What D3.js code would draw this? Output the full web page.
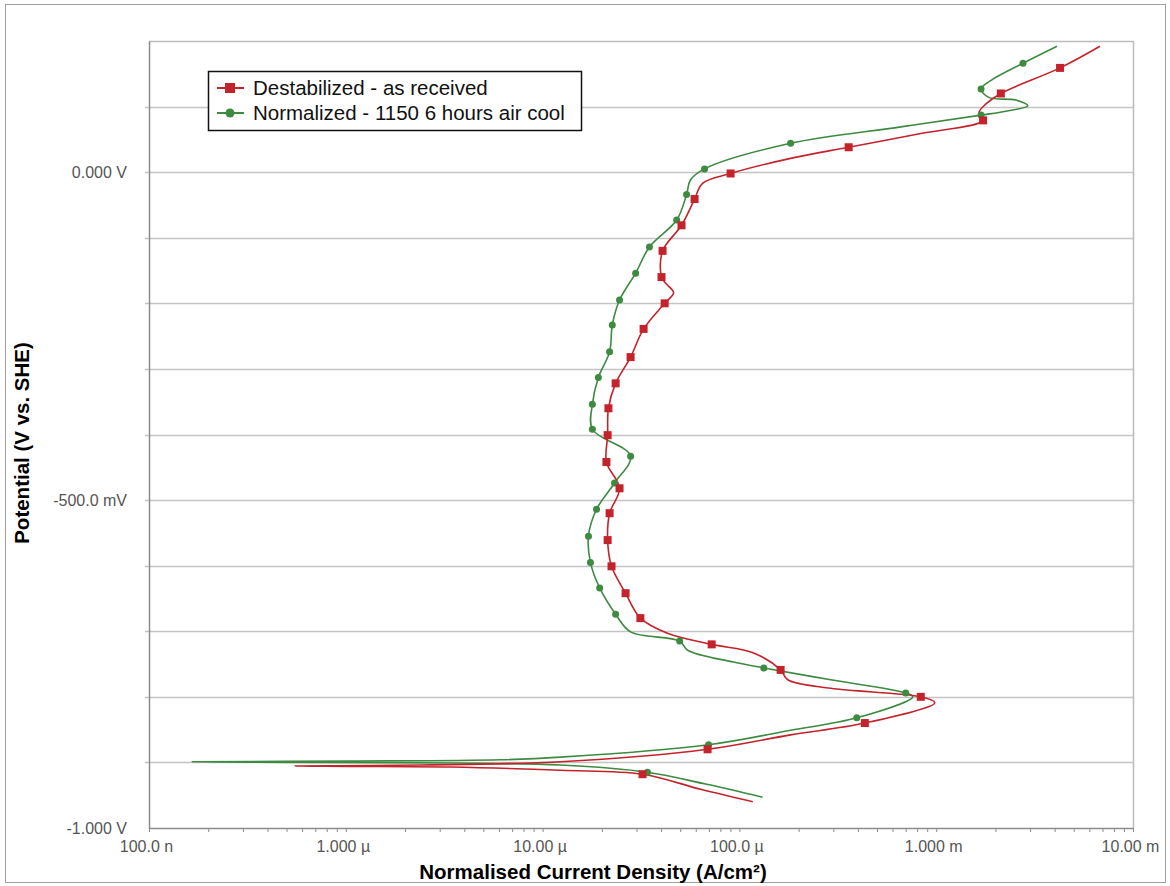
<!DOCTYPE html>
<html>
<head>
<meta charset="utf-8">
<script src="https://cdn.jsdelivr.net/npm/d3@7"></script>
<style>
  html, body { margin: 0; padding: 0; background: #fff; }
  svg { display: block; font-family: "Liberation Sans", Arial, sans-serif; }
</style>
</head>
<body>
<div id="chart"></div>
<script>
// series: [current density (A/cm2), potential (V vs SHE)] in scan order
const destabilized = [
  [1.17e-4, -0.960], [6.35e-5, -0.941], [3.22e-5, -0.918], [1.23e-5, -0.912],
  [3.40e-6, -0.907], [1.05e-6, -0.906], [5.53e-7, -0.9055], [2.39e-6, -0.904],
  [1.23e-5, -0.899], [6.89e-5, -0.880], [1.82e-4, -0.858], [4.34e-4, -0.840],
  [9.84e-4, -0.809], [8.35e-4, -0.800], [2.91e-4, -0.787], [1.76e-4, -0.774],
  [1.62e-4, -0.759], [1.18e-4, -0.733], [7.23e-5, -0.720], [4.31e-5, -0.703],
  [3.14e-5, -0.680], [2.64e-5, -0.642], [2.24e-5, -0.601], [2.14e-5, -0.561],
  [2.19e-5, -0.520], [2.46e-5, -0.482], [2.11e-5, -0.442], [2.14e-5, -0.401],
  [2.16e-5, -0.360], [2.35e-5, -0.322], [2.80e-5, -0.282], [3.26e-5, -0.239],
  [4.17e-5, -0.200], [4.63e-5, -0.184], [4.27e-5, -0.171], [4.02e-5, -0.160],
  [4.07e-5, -0.120], [5.08e-5, -0.081], [5.92e-5, -0.041], [6.50e-5, -0.017],
  [9.02e-5, -0.002], [1.82e-4, 0.021], [3.59e-4, 0.038], [8.35e-4, 0.059],
  [1.73e-3, 0.079], [1.65e-3, 0.091], [1.79e-3, 0.104], [2.13e-3, 0.120],
  [4.26e-3, 0.159], [6.79e-3, 0.192]
];
const destabMarks = [2, 9, 11, 13, 16, 18, 20, 21, 22, 23, 24, 25, 26, 27, 28, 29,
  30, 31, 32, 35, 36, 37, 38, 40, 42, 44, 47, 48];

const normalized = [
  [1.31e-4, -0.953], [6.73e-5, -0.933], [3.41e-5, -0.915], [1.23e-5, -0.904],
  [3.40e-6, -0.901], [5.86e-7, -0.8999], [1.66e-7, -0.899], [1.05e-6, -0.898],
  [6.10e-6, -0.896], [1.23e-5, -0.892], [6.97e-5, -0.873], [1.82e-4, -0.851],
  [3.95e-4, -0.832], [7.60e-4, -0.800], [7.00e-4, -0.794], [2.91e-4, -0.774],
  [1.33e-4, -0.756], [9.33e-5, -0.747], [5.46e-5, -0.729], [4.97e-5, -0.715],
  [2.80e-5, -0.701], [2.35e-5, -0.674], [1.95e-5, -0.634], [1.75e-5, -0.595],
  [1.71e-5, -0.555], [1.88e-5, -0.514], [2.32e-5, -0.474], [2.80e-5, -0.433],
  [1.79e-5, -0.392], [1.79e-5, -0.354], [1.92e-5, -0.313], [2.19e-5, -0.274],
  [2.26e-5, -0.233], [2.46e-5, -0.195], [2.97e-5, -0.154], [3.49e-5, -0.114],
  [4.80e-5, -0.073], [5.39e-5, -0.034], [5.64e-5, -0.012], [6.65e-5, 0.005],
  [1.82e-4, 0.044], [6.61e-4, 0.069], [1.69e-3, 0.087], [2.26e-3, 0.093],
  [2.92e-3, 0.101], [2.54e-3, 0.110], [1.85e-3, 0.114], [1.69e-3, 0.127],
  [1.90e-3, 0.140], [2.76e-3, 0.166], [4.11e-3, 0.192]
];
const normalMarks = [2, 10, 12, 14, 16, 19, 21, 22, 23, 24, 25, 26, 27, 28, 29, 30,
  31, 32, 33, 34, 35, 36, 37, 39, 40, 42, 47, 49];

const seriesNames = ['Destabilized - as received', 'Normalized - 1150 6 hours air cool'];
const xTickValues = [1e-7, 1e-6, 1e-5, 1e-4, 1e-3, 1e-2];
const xTickLabels = ['100.0 n', '1.000 \u00b5', '10.00 \u00b5', '100.0 \u00b5', '1.000 m', '10.00 m'];
const yTickValues = [0, -0.5, -1.0];
const yTickLabels = ['0.000 V', '-500.0 mV', '-1.000 V'];

const width = 1170, height = 886;
const margin = { top: 41, right: 37, bottom: 58, left: 149 };
const red = '#c4232b', green = '#3d8a41';

const svg = d3.select('#chart').append('svg')
  .attr('width', width)
  .attr('height', height);

// outer frame
svg.append('rect')
  .attr('x', 5.5).attr('y', 4.5)
  .attr('width', 1160).attr('height', 878)
  .attr('fill', 'none').attr('stroke', '#a0a0a0');

const x = d3.scaleLog()
  .domain([1e-7, 1e-2])
  .range([margin.left, width - margin.right]);

const y = d3.scaleLinear()
  .domain([-1.0, 0.2])
  .range([height - margin.bottom, margin.top]);

// horizontal grid every 100 mV
const gridVals = d3.range(-9, 2).map(d => d / 10);
svg.append('g')
  .selectAll('line')
  .data(gridVals)
  .enter()
  .append('line')
  .attr('x1', margin.left - 4)
  .attr('x2', width - margin.right)
  .attr('y1', d => Math.round(y(d)) + 0.5)
  .attr('y2', d => Math.round(y(d)) + 0.5)
  .attr('stroke', '#c4c4c4')
  .attr('stroke-width', 1.5);

// plot border (top / right)
svg.append('path')
  .attr('d', `M${margin.left},${margin.top + 0.5}H${width - margin.right + 0.5}V${height - margin.bottom}`)
  .attr('fill', 'none')
  .attr('stroke', '#bdbdbd')
  .attr('stroke-width', 1.5);

// x axis with minor ticks
const minor = [];
for (let e = -7; e < -2; e++) {
  for (let k = 2; k <= 9; k++) minor.push(k * Math.pow(10, e));
}
const xAxis = svg.append('g')
  .attr('transform', `translate(0,${height - margin.bottom})`)
  .call(d3.axisBottom(x)
    .tickValues(xTickValues.concat(minor))
    .tickSize(4)
    .tickSizeOuter(0)
    .tickFormat(d => {
      const i = xTickValues.findIndex(v => Math.abs(v - d) / v < 1e-6);
      return i >= 0 ? xTickLabels[i] : '';
    }));
xAxis.select('.domain').attr('stroke', '#8c8c8c').attr('stroke-width', 1.5);
xAxis.selectAll('.tick line').attr('stroke', '#8c8c8c');
xAxis.selectAll('.tick text')
  .attr('y', 13)
  .attr('dy', '0.71em')
  .attr('dx', -3)
  .style('font-size', '16px')
  .style('fill', '#555');

// y axis
const yAxis = svg.append('g')
  .attr('transform', `translate(${margin.left},0)`)
  .call(d3.axisLeft(y)
    .tickValues(yTickValues)
    .tickSize(0)
    .tickFormat((d, i) => yTickLabels[i]));
yAxis.select('.domain').attr('stroke', '#8c8c8c').attr('stroke-width', 1.5);
yAxis.selectAll('.tick text')
  .attr('x', -22)
  .style('font-size', '16px')
  .style('fill', '#555');

// axis titles
svg.append('text')
  .attr('x', 593)
  .attr('y', 879)
  .attr('text-anchor', 'middle')
  .style('font-size', '20.5px')
  .style('font-weight', 'bold')
  .text('Normalised Current Density (A/cm\u00b2)');

svg.append('text')
  .attr('transform', 'translate(29,443) rotate(-90)')
  .attr('text-anchor', 'middle')
  .style('font-size', '20.5px')
  .style('font-weight', 'bold')
  .text('Potential (V vs. SHE)');

// curves
const line = d3.line()
  .x(d => x(d[0]))
  .y(d => y(d[1]))
  .curve(d3.curveCatmullRom.alpha(0.5));

const plot = svg.append('g');

plot.append('path')
  .datum(normalized)
  .attr('d', line)
  .attr('fill', 'none')
  .attr('stroke', green)
  .attr('stroke-width', 1.6);

plot.append('path')
  .datum(destabilized)
  .attr('d', line)
  .attr('fill', 'none')
  .attr('stroke', red)
  .attr('stroke-width', 1.6);

plot.selectAll('circle.nm')
  .data(normalMarks.map(i => normalized[i]))
  .enter()
  .append('circle')
  .attr('class', 'nm')
  .attr('cx', d => x(d[0]))
  .attr('cy', d => y(d[1]))
  .attr('r', 3.5)
  .attr('fill', green);

plot.selectAll('rect.dm')
  .data(destabMarks.map(i => destabilized[i]))
  .enter()
  .append('rect')
  .attr('class', 'dm')
  .attr('x', d => x(d[0]) - 4)
  .attr('y', d => y(d[1]) - 4)
  .attr('width', 8)
  .attr('height', 8)
  .attr('fill', red);

// legend
const legend = svg.append('g').attr('transform', 'translate(208,71)');
legend.append('rect')
  .attr('x', 0.5).attr('y', 0.5)
  .attr('width', 373).attr('height', 59)
  .attr('fill', '#fff')
  .attr('stroke', '#111')
  .attr('stroke-width', 1.5);

const items = legend.selectAll('g.item')
  .data(seriesNames)
  .enter()
  .append('g')
  .attr('class', 'item')
  .attr('transform', (d, i) => `translate(0,${17 + i * 25})`);

items.append('line')
  .attr('x1', 9).attr('x2', 36)
  .attr('stroke', (d, i) => i === 0 ? red : green)
  .attr('stroke-width', 2);

items.each(function (d, i) {
  const g = d3.select(this);
  if (i === 0) {
    g.append('rect').attr('x', 17).attr('y', -5).attr('width', 10).attr('height', 10).attr('fill', red);
  } else {
    g.append('circle').attr('cx', 22).attr('cy', 0).attr('r', 4.5).attr('fill', green);
  }
});

items.append('text')
  .attr('x', 45)
  .attr('dy', '0.36em')
  .style('font-size', '20.5px')
  .style('fill', '#111')
  .text(d => d);
</script>
</body>
</html>
